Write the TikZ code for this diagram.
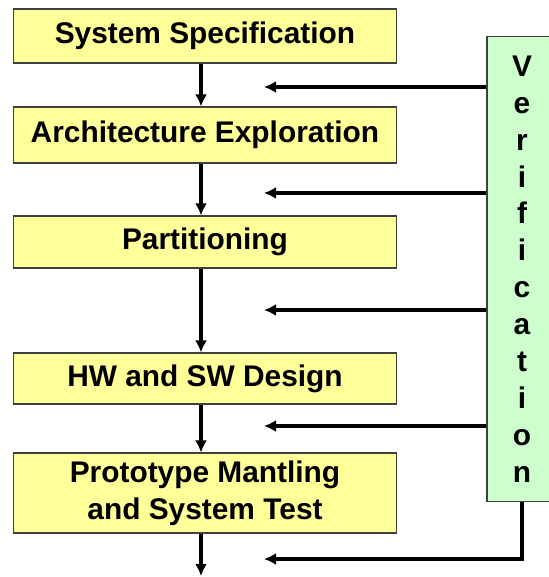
\documentclass[tikz,border=0pt]{standalone}
\usepackage{fontspec}
\setmainfont{Liberation Sans}
\usetikzlibrary{arrows.meta}
\definecolor{phasefill}{HTML}{FFFF99}
\definecolor{verifill}{HTML}{CCFFCC}
\tikzset{
  phase/.style={draw=black!75,fill=phasefill,line width=.6pt,minimum width=7.68cm,
    inner sep=0pt,align=center,font=\fontsize{17}{21}\selectfont\bfseries},
  verifbox/.style={draw=black!75,fill=verifill,line width=.6pt,minimum width=1.4cm,
    inner sep=0pt,align=center,font=\fontsize{17}{21}\selectfont\bfseries},
  flow/.style={line width=2.3pt,-{Latex[length=2.4mm,width=2.4mm]}}
}
\begin{document}
\begin{tikzpicture}[x=.02cm,y=-.02cm]
\useasboundingbox (0,0) rectangle (548,577);
% phases
\node[phase,minimum height=1.08cm] (spec) at (205,36) {System Specification};
\node[phase,minimum height=1.12cm] (arch) at (205,135) {Architecture Exploration};
\node[phase,minimum height=1.04cm] (part) at (205,242) {Partitioning};
\node[phase,minimum height=1.02cm] (hwsw) at (205,378.5) {HW and SW Design};
\node[phase,minimum height=1.6cm] (proto) at (205,493) {Prototype Mantling\\and System Test};
\node[verifbox,minimum height=9.32cm] (verif) at (522,269) {V\\e\\r\\i\\f\\i\\c\\a\\t\\i\\o\\n};

% main flow
\coordinate (axis) at (201,0);
\coordinate (out) at (201,576);
\draw[flow](spec.south -| axis)--(arch.north -| axis);
\draw[flow](arch.south -| axis)--(part.north -| axis);
\draw[flow](part.south -| axis)--(hwsw.north -| axis);
\draw[flow](hwsw.south -| axis)--(proto.north -| axis);
\draw[flow](proto.south -| axis)--(out);

% feedback from verification
\coordinate (fb1) at (264,87);
\coordinate (fb2) at (264,193);
\coordinate (fb3) at (264,310);
\coordinate (fb4) at (264,426);
\coordinate (fb5) at (264,559);
\draw[flow](verif.west |- fb1)--(fb1);
\draw[flow](verif.west |- fb2)--(fb2);
\draw[flow](verif.west |- fb3)--(fb3);
\draw[flow](verif.west |- fb4)--(fb4);
\draw[flow](verif.south)|-(fb5);
\end{tikzpicture}
\end{document}
